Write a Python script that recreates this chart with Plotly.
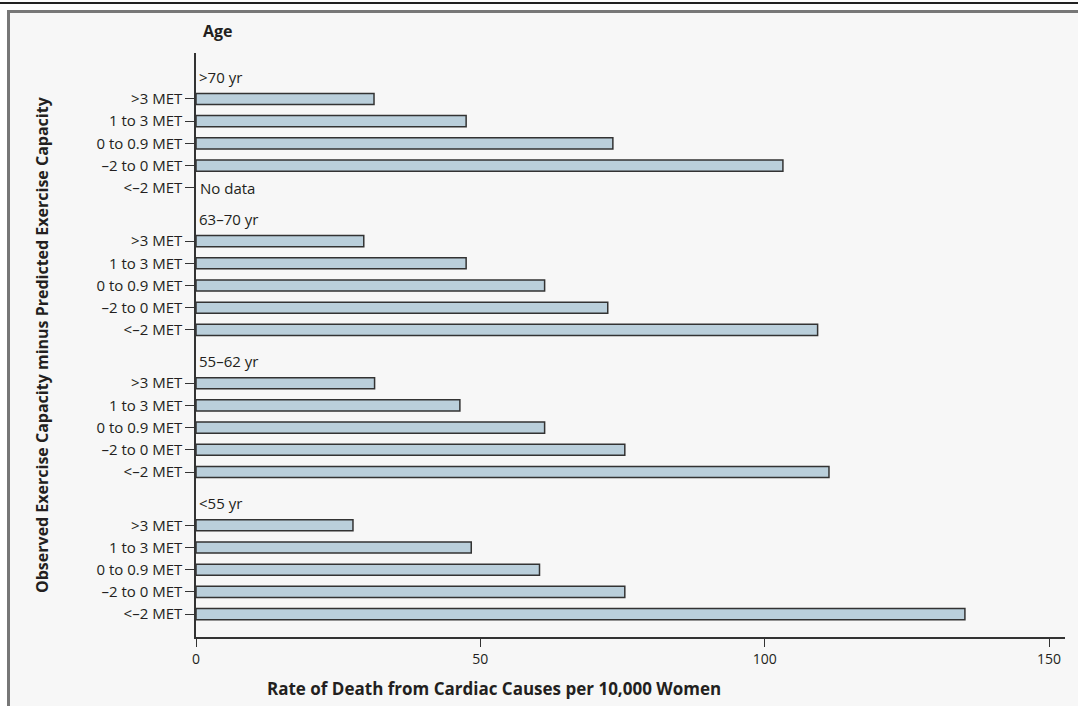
import plotly.graph_objects as go

# Age groups, top to bottom
age_groups = [">70 yr", "63–70 yr", "55–62 yr", "<55 yr"]

# Observed minus predicted exercise capacity, top to bottom inside each group
met_levels = [">3 MET", "1 to 3 MET", "0 to 0.9 MET", "–2 to 0 MET", "<–2 MET"]

# Rate of death from cardiac causes per 10,000 women (None = no data)
rate_over_70 = [31.3, 47.5, 73.3, 103.2, None]
rate_63_70 = [29.5, 47.5, 61.3, 72.4, 109.3]
rate_55_62 = [31.4, 46.4, 61.3, 75.4, 111.3]
rate_under_55 = [27.6, 48.4, 60.4, 75.4, 135.2]

x_tick_values = [0, 50, 100, 150]

rates_by_group = [rate_over_70, rate_63_70, rate_55_62, rate_under_55]

# ---- layout geometry (pixels) ----
W, H = 1078, 706
M_L, M_R, M_T, M_B = 196, 13, 53, 69
PLOT_W = W - M_L - M_R
PLOT_H = H - M_T - M_B
GROUP_PITCH = 6.4          # row units between the first rows of two groups
Y_RANGE = [24.23, -2.07]   # reversed: first row at top
X_RANGE = [0, 152.8]


def px_x(px):
    return (px - M_L) / PLOT_W


def px_y(py):
    return (H - M_B - py) / PLOT_H


# row positions
y_pos, x_val, tick_text = [], [], []
for g, rates in enumerate(rates_by_group):
    for r, (lvl, v) in enumerate(zip(met_levels, rates)):
        y_pos.append(g * GROUP_PITCH + r)
        x_val.append(v)
        tick_text.append(lvl)

TXT = "#231f20"
FONT = "Open Sans"
LABEL_SIZE = 15

fig = go.Figure()
fig.add_trace(go.Bar(
    x=x_val,
    y=y_pos,
    orientation="h",
    width=0.5,
    marker=dict(color="#bacfdb", line=dict(color="#333333", width=1.5)),
    hoverinfo="x",
))

annotations = []
# age group headers
for g, name in enumerate(age_groups):
    annotations.append(dict(
        x=0, y=g * GROUP_PITCH - 1.0, xref="x", yref="y",
        text=name, showarrow=False, xanchor="left", yanchor="middle",
        xshift=1, font=dict(family=FONT, size=LABEL_SIZE, color=TXT),
    ))
# missing values
for yp, v in zip(y_pos, x_val):
    if v is None:
        annotations.append(dict(
            x=0, y=yp, xref="x", yref="y", text="No data", showarrow=False,
            xanchor="left", yanchor="middle", xshift=2,
            font=dict(family=FONT, size=LABEL_SIZE, color=TXT),
        ))

annotations += [
    dict(x=px_x(201), y=px_y(31), xref="paper", yref="paper", text="<b>Age</b>",
         showarrow=False, xanchor="left", yanchor="middle",
         font=dict(family=FONT, size=16, color=TXT)),
    dict(x=px_x(42), y=px_y(345), xref="paper", yref="paper",
         text="<b>Observed Exercise Capacity minus Predicted Exercise Capacity</b>",
         showarrow=False, textangle=-90, xanchor="center", yanchor="middle",
         font=dict(family=FONT, size=16, color=TXT)),
    dict(x=px_x(494), y=px_y(688), xref="paper", yref="paper",
         text="<b>Rate of Death from Cardiac Causes per 10,000 Women</b>",
         showarrow=False, xanchor="center", yanchor="middle",
         font=dict(family=FONT, size=17, color=TXT)),
]

shapes = [
    # panel background with grey frame
    dict(type="rect", xref="paper", yref="paper", layer="below",
         x0=px_x(8.5), x1=px_x(W + 10), y0=px_y(H + 10), y1=px_y(11.5),
         fillcolor="#f7f7f7", line=dict(color="#777777", width=3)),
    # rule across the top
    dict(type="line", xref="paper", yref="paper",
         x0=px_x(0), x1=px_x(W), y0=px_y(3), y1=px_y(3),
         line=dict(color="#222222", width=2)),
]

fig.update_layout(
    width=W, height=H,
    margin=dict(l=M_L, r=M_R, t=M_T, b=M_B, pad=0),
    paper_bgcolor="white",
    plot_bgcolor="rgba(0,0,0,0)",
    showlegend=False,
    font=dict(family=FONT, size=LABEL_SIZE, color=TXT),
    annotations=annotations,
    shapes=shapes,
    xaxis=dict(
        range=X_RANGE, tickvals=x_tick_values, ticks="outside", ticklen=8,
        tickwidth=1.2, tickcolor="#333333", showline=True, linecolor="#333333",
        linewidth=1.5, showgrid=False, zeroline=False,
        tickfont=dict(family=FONT, size=14, color=TXT),
    ),
    yaxis=dict(
        range=Y_RANGE, tickvals=y_pos, ticktext=tick_text, ticks="outside",
        ticklen=9, tickwidth=1.2, tickcolor="#333333", showline=True,
        linecolor="#333333", linewidth=1.5, showgrid=False, zeroline=False,
        tickfont=dict(family=FONT, size=LABEL_SIZE, color=TXT),
    ),
)

fig.write_html("out.html")
